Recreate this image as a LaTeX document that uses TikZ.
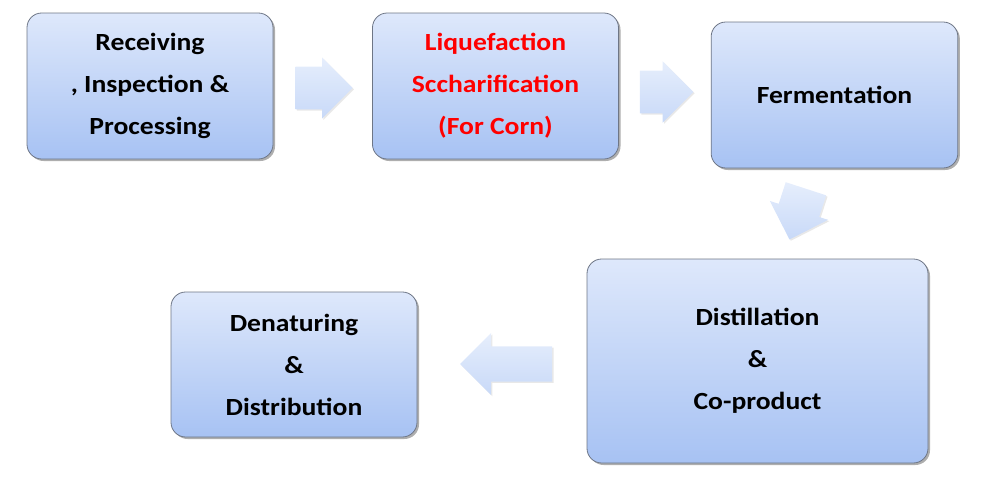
\documentclass[tikz,border=0pt]{standalone}
\usepackage{fontspec}
\setmainfont{Carlito}[FakeStretch=1.12]
\usetikzlibrary{shapes.arrows,shadows}
\definecolor{boxtop}{HTML}{DEE8FB}
\definecolor{boxbot}{HTML}{A7C2F3}
\definecolor{boxedge}{HTML}{6E7686}
\definecolor{arrtop}{HTML}{E6EEFC}
\definecolor{arrbot}{HTML}{C8D9F8}
\tikzset{
  stepbox/.style={draw=boxedge, line width=0.6pt, rounded corners=11pt,
    top color=boxtop, bottom color=boxbot, inner sep=0pt,
    align=center, font=\fontsize{18.5}{31.5}\selectfont\bfseries,
    drop shadow={shadow xshift=1.5pt, shadow yshift=-1.5pt, opacity=0.45, fill=black!70}},
  flowarrow/.style={single arrow, draw=none, inner xsep=0pt,
    top color=arrtop, bottom color=arrbot,
    drop shadow={shadow xshift=1pt, shadow yshift=-1pt, opacity=0.15, fill=black!60}},
}
\begin{document}
\begin{tikzpicture}[x=0.75pt,y=-0.75pt]
\useasboundingbox (0,0) rectangle (992,489);
\node[stepbox, minimum width=184.5pt, minimum height=109.5pt] (recv) at (150,86)
  {Receiving\\, Inspection \&\\Processing};
\node[stepbox, minimum width=184.5pt, minimum height=109.5pt, text=red] (liq) at (495.5,86)
  {Liquefaction\\Sccharification\\(For Corn)};
\node[stepbox, minimum width=185pt, minimum height=109.5pt] (ferm) at (834.5,95)
  {Fermentation};
\node[stepbox, minimum width=255.75pt, minimum height=153pt] (dist) at (757.5,361)
  {Distillation\\\&\\Co-product};
\node[stepbox, minimum width=184.5pt, minimum height=108.75pt] (den) at (294,364.5)
  {Denaturing\\\&\\Distribution};
\node[flowarrow, minimum height=42.75pt, inner ysep=15.75pt, single arrow head extend=7pt] (a1) at (313.5,88) {};
\node[flowarrow, minimum height=40pt, inner ysep=15.75pt, single arrow head extend=7pt] (a2) at (656,92) {};
\node[flowarrow, minimum height=40pt, inner ysep=15.75pt, single arrow head extend=7pt, rotate=-108] (a3) at (801,204) {};
\node[flowarrow, minimum height=69pt, inner ysep=13pt, single arrow head extend=10pt, rotate=180] (a4) at (515,364) {};
\end{tikzpicture}
\end{document}
